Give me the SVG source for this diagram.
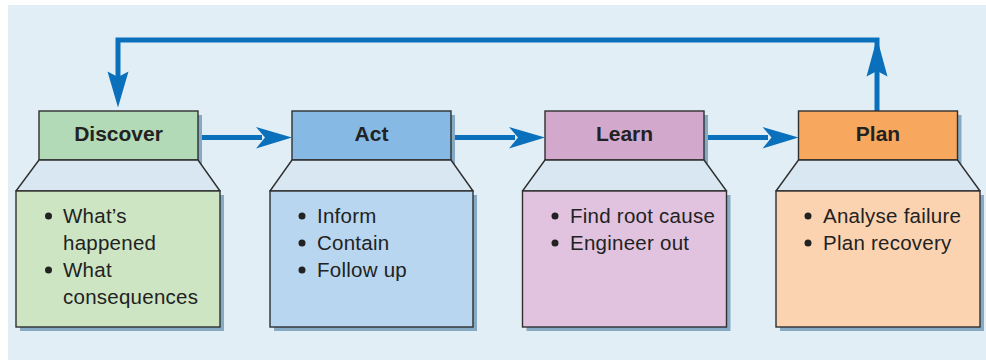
<svg xmlns="http://www.w3.org/2000/svg" width="986" height="360" viewBox="0 0 986 360">
<defs>
<style>
.hdr{stroke:#2f2f2f;stroke-width:1.4}
.trap{fill:#d8e7f1;stroke:#2f2f2f;stroke-width:1.4;stroke-linejoin:round}
.body{stroke:#2f2f2f;stroke-width:1.4}
.shadow{fill:#86a9c4}
.title{font-family:"Liberation Sans",Arial,sans-serif;font-weight:bold;font-size:21px;fill:#222;text-anchor:middle}
.item{font-family:"Liberation Sans",Arial,sans-serif;font-size:20.5px;letter-spacing:0.25px;fill:#222}
.bullet{fill:#222}
.conn{fill:none;stroke:#0a70bb;stroke-width:5}
.head{fill:#0a70bb}
</style>
</defs>
<rect x="0" y="0" width="986" height="360" fill="#ffffff"/>
<rect x="8" y="5" width="978" height="355" fill="#e2eef6"/>

<g id="connectors">
<path class="conn" d="M198,137.5 H262"/>
<path class="head" d="M292,137.5 L256,127 L265,137.5 L256,148.5 Z"/>
<path class="conn" d="M451,137.5 H515"/>
<path class="head" d="M545,137.5 L509,127 L518,137.5 L509,148.5 Z"/>
<path class="conn" d="M704,137.5 H768"/>
<path class="head" d="M798.5,137.5 L762.5,127 L771.5,137.5 L762.5,148.5 Z"/>
<path class="conn" d="M877,111 V40 H118 V78"/>
<path class="head" d="M877,38 L866.5,76.5 L877,71 L887.5,76.5 Z"/>
<path class="head" d="M118,107.5 L107.5,71.5 L118,77 L128.5,71.5 Z"/>
</g>

<g id="discover">
<rect class="shadow" x="43" y="115" width="159" height="49"/>
<rect class="hdr" x="39" y="111" width="159" height="49" fill="#b2dab6"/>
<path class="trap" d="M39,160 H198 L220,191 H16 Z"/>
<rect class="shadow" x="20" y="195" width="204" height="136"/>
<rect class="body" x="16" y="191" width="204" height="136" fill="#cde5c3"/>
<text class="title" x="118.5" y="141">Discover</text>
<circle class="bullet" cx="48.5" cy="216" r="3.5"/>
<text class="item" x="63" y="223">What’s</text>
<text class="item" x="63" y="250">happened</text>
<circle class="bullet" cx="48.5" cy="270" r="3.5"/>
<text class="item" x="63" y="277">What</text>
<text class="item" x="63" y="304">consequences</text>
</g>

<g id="act">
<rect class="shadow" x="296" y="115" width="159" height="49"/>
<rect class="hdr" x="292" y="111" width="159" height="49" fill="#86b9e3"/>
<path class="trap" d="M292,160 H451 L473,191 H270 Z"/>
<rect class="shadow" x="274" y="195" width="203" height="136"/>
<rect class="body" x="270" y="191" width="203" height="136" fill="#b8d6ef"/>
<text class="title" x="371.5" y="141">Act</text>
<circle class="bullet" cx="302" cy="216" r="3.5"/>
<text class="item" x="317" y="223">Inform</text>
<circle class="bullet" cx="302" cy="243" r="3.5"/>
<text class="item" x="317" y="250">Contain</text>
<circle class="bullet" cx="302" cy="270" r="3.5"/>
<text class="item" x="317" y="277">Follow up</text>
</g>

<g id="learn">
<rect class="shadow" x="549" y="115" width="159" height="49"/>
<rect class="hdr" x="545" y="111" width="159" height="49" fill="#d3a8cd"/>
<path class="trap" d="M545,160 H704 L726.5,191 H522.5 Z"/>
<rect class="shadow" x="526.5" y="195" width="204" height="136"/>
<rect class="body" x="522.5" y="191" width="204" height="136" fill="#e1c3df"/>
<text class="title" x="624.5" y="141">Learn</text>
<circle class="bullet" cx="555" cy="216" r="3.5"/>
<text class="item" x="570" y="223">Find root cause</text>
<circle class="bullet" cx="555" cy="243" r="3.5"/>
<text class="item" x="570" y="250">Engineer out</text>
</g>

<g id="plan">
<rect class="shadow" x="802.5" y="115" width="159" height="49"/>
<rect class="hdr" x="798.5" y="111" width="159" height="49" fill="#f8a75e"/>
<path class="trap" d="M798.5,160 H957.5 L980,191 H776 Z"/>
<rect class="shadow" x="780" y="195" width="204" height="136"/>
<rect class="body" x="776" y="191" width="204" height="136" fill="#fbd3b1"/>
<text class="title" x="878" y="141">Plan</text>
<circle class="bullet" cx="808" cy="216" r="3.5"/>
<text class="item" x="823" y="223">Analyse failure</text>
<circle class="bullet" cx="808" cy="243" r="3.5"/>
<text class="item" x="823" y="250">Plan recovery</text>
</g>
</svg>
